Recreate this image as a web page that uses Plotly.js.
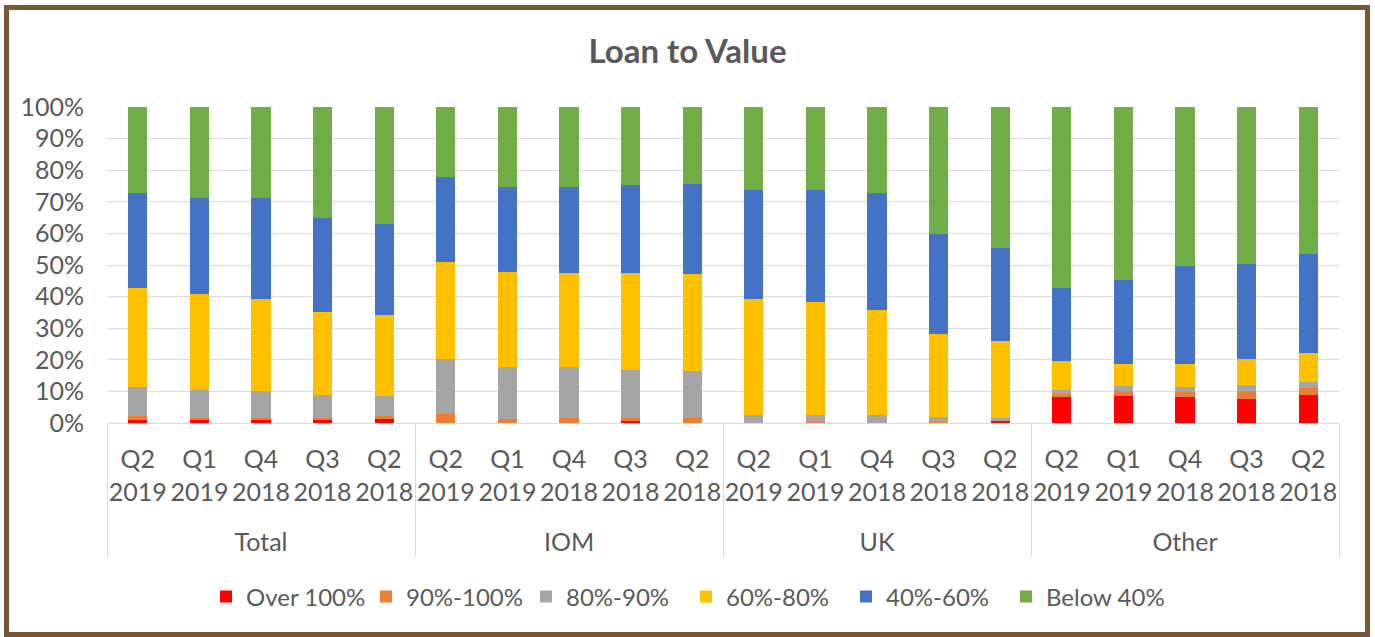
<!DOCTYPE html>
<html>
<head>
<meta charset="utf-8">
<script src="https://cdn.plot.ly/plotly-3.0.1.min.js"></script>
<style>
  html, body { margin: 0; padding: 0; background: #ffffff; }
  #chart { width: 1375px; height: 637px; }
</style>
</head>
<body>
<div id="chart"></div>
<script>
const groups = ["Total", "IOM", "UK", "Other"];
const periods = ["Q2<br>2019<br> ", "Q1<br>2019<br> ", "Q4<br>2018<br> ", "Q3<br>2018<br> ", "Q2<br>2018<br> "];

const seriesNames = ["Over 100%", "90%-100%", "80%-90%", "60%-80%", "40%-60%", "Below 40%"];
const seriesColors = ["#FF0000", "#ED7D31", "#A5A5A5", "#FFC000", "#4472C4", "#70AD47"];

const over100 = [0.8, 0.8, 0.8, 0.8, 1.3, 0, 0, 0, 0.5, 0, 0, 0, 0, 0, 0.5, 8.2, 8.6, 8.2, 7.7, 9.0];
const p90to100 = [1.3, 0.8, 0.8, 0.8, 0.8, 2.9, 1.2, 1.6, 1.1, 1.6, 0, 0.3, 0, 0.3, 0, 0.9, 1.4, 1.5, 2.3, 2.0];
const p80to90 = [9.3, 9.0, 8.4, 7.4, 6.5, 17.4, 16.6, 16.2, 15.1, 14.7, 2.4, 2.1, 2.4, 1.7, 1.1, 1.5, 1.8, 1.7, 2.1, 2.0];
const p60to80 = [31.3, 30.1, 29.4, 26.0, 25.5, 30.5, 30.1, 29.7, 30.8, 30.8, 37.0, 35.8, 33.4, 26.1, 24.4, 8.9, 6.9, 7.3, 8.3, 9.3];
const p40to60 = [30.1, 30.5, 31.8, 30.0, 28.8, 27.2, 26.9, 27.3, 27.7, 28.5, 34.2, 35.4, 37.0, 31.7, 29.3, 23.2, 26.4, 30.9, 30.0, 31.3];
const below40 = [27.2, 28.8, 28.8, 35.0, 37.1, 22.0, 25.2, 25.2, 24.8, 24.4, 26.4, 26.4, 27.2, 40.2, 44.7, 57.3, 54.9, 50.4, 49.6, 46.4];

const yTickVals = [0, 10, 20, 30, 40, 50, 60, 70, 80, 90, 100];
const yTickText = ["0%", "10%", "20%", "30%", "40%", "50%", "60%", "70%", "80%", "90%", "100%"];

const seriesValues = [over100, p90to100, p80to90, p60to80, p40to60, below40];

const outer = [], inner = [];
groups.forEach(g => periods.forEach(p => { outer.push(g); inner.push(p); }));

const textColor = "#595959";
const fontFamily = "Lato, 'Open Sans', sans-serif";

const traces = seriesNames.map((name, i) => ({
  type: "bar",
  name: name,
  x: [outer, inner],
  y: seriesValues[i],
  marker: { color: seriesColors[i], line: { width: 0 } },
  hoverinfo: "skip"
}));

// plot area: x 107..1339, y 107..423
const L = 107, R = 1339, T = 107, B = 423;
const px = v => (v - L) / (R - L);
const py = v => (B - v) / (B - T);

const layout = {
  width: 1375,
  height: 637,
  margin: { l: L, r: 1375 - R, t: T, b: 637 - B, pad: 0 },
  paper_bgcolor: "#ffffff",
  plot_bgcolor: "#ffffff",
  barmode: "stack",
  bargap: 0.69,
  showlegend: true,
  font: { family: fontFamily, color: textColor, size: 25 },
  title: {
    text: "<b>Loan to Value</b>",
    font: { family: fontFamily, size: 33, color: textColor },
    x: 0.5, xanchor: "center",
    y: 1 - 51 / 637, yanchor: "middle"
  },
  xaxis: {
    type: "multicategory",
    showgrid: false,
    showline: true,
    linecolor: "#D9D9D9",
    linewidth: 1,
    ticks: "",
    tickangle: 0,
    ticklabelstandoff: 14,
    showdividers: true,
    dividercolor: "#D9D9D9",
    dividerwidth: 1,
    tickfont: { family: fontFamily, size: 25, color: textColor },
    fixedrange: true
  },
  yaxis: {
    range: [0, 100],
    tickvals: yTickVals,
    ticktext: yTickText,
    showgrid: true,
    gridcolor: "#D9D9D9",
    gridwidth: 1,
    zeroline: false,
    showline: false,
    ticks: "",
    ticklabelstandoff: 22,
    tickfont: { family: fontFamily, size: 25, color: textColor },
    fixedrange: true
  },
  legend: {
    orientation: "h",
    x: px(686), xanchor: "center",
    y: py(597), yanchor: "middle",
    traceorder: "normal",
    entrywidth: 115,
    entrywidthmode: "pixels",
    font: { family: fontFamily, size: 24, color: textColor },
    itemclick: false,
    itemdoubleclick: false
  },
  shapes: [{
    type: "rect",
    xref: "paper", yref: "paper",
    x0: px(6.5), x1: px(1367.5),
    y0: py(634.5), y1: py(7.5),
    line: { color: "#7A5634", width: 5 },
    fillcolor: "rgba(0,0,0,0)",
    layer: "above"
  }]
};

Plotly.newPlot("chart", traces, layout, { displayModeBar: false, staticPlot: true });
</script>
</body>
</html>
